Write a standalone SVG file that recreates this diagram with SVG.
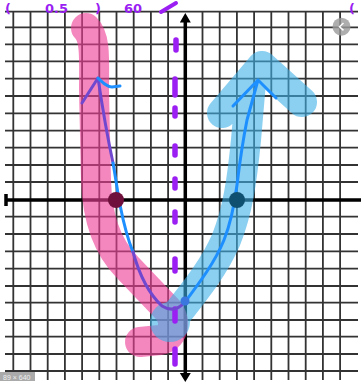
<svg xmlns="http://www.w3.org/2000/svg" width="361" height="387" viewBox="0 0 361 387">
<style>
.grid{stroke:#333;stroke-width:1.8;fill:none}
.axis{stroke:#000;stroke-width:3.5;fill:none}
.hl{fill:none;stroke-linecap:round;stroke-linejoin:round}
.thin{fill:none;stroke-width:3;stroke-linecap:round;stroke-linejoin:round}
.dash{stroke:#9b1ff2;stroke-width:5.5;stroke-linecap:round}
.hand{font-family:"DejaVu Sans",sans-serif;font-size:13px;font-weight:bold;fill:#9b1ff2}
</style>
<rect width="361" height="387" fill="#fff"/>
<g id="grid">
<path class="grid" d="M13.3 11.7V380M30.5 11.7V380M47.7 11.7V380M64.9 11.7V380M82.1 11.7V380M99.3 11.7V380M116.5 11.7V380M133.7 11.7V380M150.9 11.7V380M168.1 11.7V380M202.5 11.7V380M219.7 11.7V380M236.9 11.7V380M254.1 11.7V380M271.3 11.7V380M288.5 11.7V380M305.7 11.7V380M322.9 11.7V380M340.1 11.7V380
M5 11.7H358M5 27.3H358M5 44.3H358M5 61.3H358M5 78.7H358M5 96H358M5 113.3H358M5 130.7H358M5 147.7H358M5 165H358M5 182H358M5 216.7H358M5 234H358M5 251.3H358M5 268.7H358M5 286H358M5 302.7H358M5 320H358M5 336.7H358M5 354H358M5 371H358"/>
</g>
<g id="axes">
<path class="axis" d="M5 200H361M6 194V206M185.3 20V376"/>
<path d="M185.3 13L190.8 22.5H179.8Z M185.3 382L190.8 373H179.8Z" fill="#000"/>
</g>
<g id="pink-highlight" opacity="0.62">
<path class="hl" stroke="#ee3f96" stroke-width="30" d="M86 28C96 38 94 60 94 90L96 180C97 215 105 245 128 268L168 310C178 324 172 338 160 340L140 342"/>
</g>
<g id="blue-highlight" opacity="0.6">
<path class="hl" stroke="#3fb0e8" stroke-width="30" d="M222 113L262 66L302 102M251 82L246 140C242 180 238 210 226 240C215 265 200 285 172 320"/>
<circle cx="170" cy="322" r="20" fill="#3fb0e8"/>
</g>
<g id="asymptote">
<path class="dash" d="M176 40V50M175 79V95M175 108V116M175 146V155M175 179V188M175 212V222M175 259V271M175 309V321M175 349V364"/>
</g>
<g id="connectors">
<path class="thin" stroke="#7048d0" d="M82 103L98 78C102 105 107 135 113 163"/>
<path class="thin" stroke="#1e8fff" d="M98 78C103 83 107 87 112 87L120 86M113 163C116 180 118 195 120 205C123 220 128 240 133 252"/>
<path class="thin" stroke="#7048d0" d="M133 252C140 277 150 295 162 306C170 311 178 310 185 302"/>
<path class="thin" stroke="#1e8fff" d="M185 302C200 282 215 262 224 240C232 220 235 200 237 185C240 160 243 140 247 120L258 80M233 106L258 80L276 98"/>
<circle cx="185" cy="301" r="4.5" fill="#3a78e0"/>
</g>
<g id="point-left"><circle cx="116" cy="200" r="8" fill="#6e0f3c"/></g>
<g id="point-right"><circle cx="237" cy="200" r="8" fill="#0f5070"/></g>
<g id="handwriting">
<text class="hand" y="12.5"><tspan x="5">(</tspan><tspan x="45">0.5</tspan><tspan x="95">)</tspan><tspan x="124">60</tspan><tspan x="349">(</tspan></text>
<path d="M161 12L176 3" stroke="#9b1ff2" stroke-width="4" stroke-linecap="round"/>
</g>
<g id="ui">
<circle cx="341.5" cy="26.7" r="9" fill="#9a9a9a" opacity="0.8"/>
<path d="M343.5 23L339.5 26.7L343.5 30.4" fill="none" stroke="#fff" stroke-width="1.5"/>
<rect x="0" y="372" width="35" height="9" fill="#aaa"/>
<text x="3" y="379.5" font-family="Liberation Sans,sans-serif" font-size="7" fill="#eee">89 × 640</text>
</g>
</svg>
